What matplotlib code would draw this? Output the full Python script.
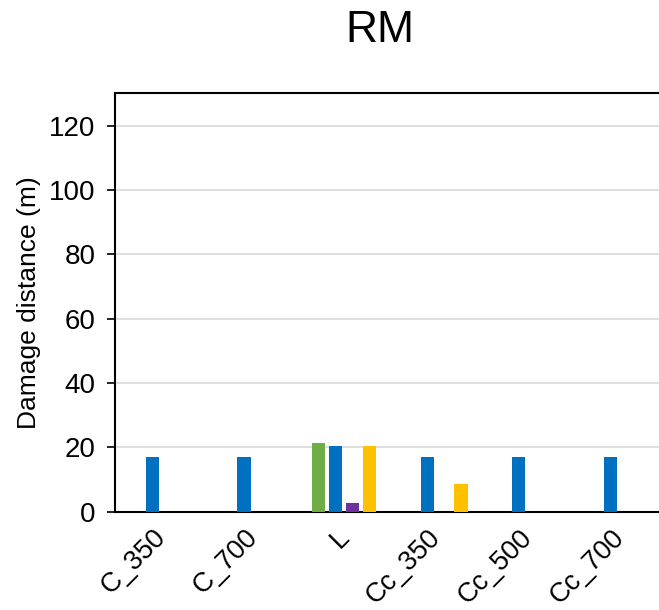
# RM damage distance by case, grouped bars

import numpy as np
import matplotlib.pyplot as plt
from matplotlib.transforms import ScaledTranslation

plt.rcParams['font.family'] = ['Liberation Sans', 'DejaVu Sans']

# data
cases = ['C_350', 'C_700', 'L', 'Cc_350', 'Cc_500', 'Cc_700']
series_green = [np.nan, np.nan, 21.4, np.nan, np.nan, np.nan]
series_blue = [17.0, 17.0, 20.4, 17.0, 17.0, 17.0]
series_purple = [np.nan, np.nan, 2.8, np.nan, np.nan, np.nan]
series_yellow = [np.nan, np.nan, 20.3, 8.7, np.nan, np.nan]

series = [series_green, series_blue, series_purple, series_yellow]
colours = ['#70AD47', '#0070C0', '#7030A0', '#FFC000']

fig = plt.figure(figsize=(6.59, 6.10), dpi=100)
# plot area runs a little past the right edge of the figure
ax = fig.add_axes([0.1745, 0.161, 0.834, 0.686])

x = np.arange(len(cases))
step = 0.1845
width = 0.144
for i, (vals, c) in enumerate(zip(series, colours)):
    offset = (i - 1.5) * step
    ax.bar(x + offset, vals, width, color=c, zorder=3)

# axes limits and grid
ax.set_xlim(-0.5, 5.5)
ax.set_ylim(0, 130)
ax.set_yticks(np.arange(0, 121, 20))
ax.yaxis.grid(True, color='#D9D9D9', lw=1.2, zorder=0)

ax.set_xticks(x)
ax.set_xticklabels(cases, rotation=45, ha='right', rotation_mode='anchor', fontsize=19.5)
ax.tick_params(axis='x', length=0, pad=9)
ax.tick_params(axis='y', length=6, width=1.2, labelsize=20, pad=8)

# nudge the slanted labels so their ends sit on the category
shift = ScaledTranslation(-8 / 100, 0, fig.dpi_scale_trans)
for lab in ax.get_xticklabels():
    lab.set_transform(lab.get_transform() + shift)

for s in ['left', 'bottom', 'top']:
    ax.spines[s].set_linewidth(1.5)
    ax.spines[s].set_color('black')
ax.spines['right'].set_visible(False)

ax.set_ylabel('Damage distance (m)', fontsize=19, labelpad=6)

fig.text(380 / 659, 1 - 30 / 610, 'RM', fontsize=32, ha='center', va='center')

plt.savefig('out.png', dpi=100)
